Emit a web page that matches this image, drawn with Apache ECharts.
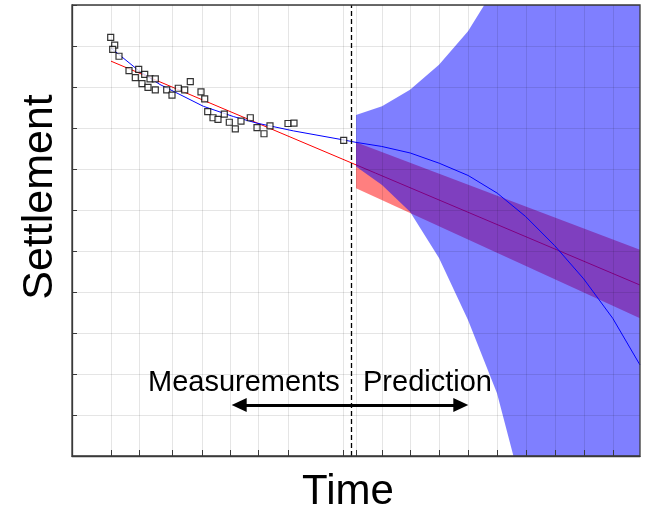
<!DOCTYPE html>
<html>
<head>
<meta charset="utf-8">
<title>Settlement prediction</title>
<script src="https://cdn.jsdelivr.net/npm/echarts@6/dist/echarts.min.js"></script>
<style>
  html, body { margin: 0; padding: 0; background: #fff; }
  #chart { width: 646px; height: 513px; }
</style>
</head>
<body>
<div id="chart"></div>
<script>
// x: days since start, y: settlement (chart units)
const xTicks = [39, 67, 100, 130, 158, 186, 216, 271, 284, 310, 338, 367, 396, 425, 454, 483, 512, 541]
const todayX = 279

const measured = [
  [38.7, 10.21], [42.7, 10.02], [40.7, 9.92], [47, 9.75], [57, 9.40],
  [66.7, 9.43], [63.3, 9.23], [72.7, 9.31], [70, 9.08], [78, 9.20],
  [83.3, 9.20], [76, 8.99], [83.3, 8.93], [94.7, 8.93], [100, 8.80],
  [106.3, 8.97], [112.7, 8.93], [118.3, 9.13], [129, 8.88], [132.7, 8.71],
  [135.7, 8.40], [141, 8.25], [146, 8.21], [152.3, 8.34], [157.3, 8.14],
  [163.3, 7.98], [169, 8.17], [178.3, 8.25], [185, 8.01], [192, 7.86],
  [198, 8.05], [216, 8.11], [222, 8.12], [271.7, 7.70]
]

// linear fit + interval
const linearFit = [[39, 9.63], [568, 4.17]]
const linearX = [284, 568]
const linearLower = [6.53, 3.36]
const linearUpper = [7.65, 5.03]

// nonlinear fit + interval
const curveFit = [
  [39, 9.95], [66.7, 9.40], [88, 9.06], [131.3, 8.53], [161.3, 8.28],
  [184.7, 8.12], [221.3, 7.93], [271.3, 7.71], [284, 7.65], [309.7, 7.55],
  [338.3, 7.39], [367.3, 7.14], [396.3, 6.84], [425.3, 6.41], [453.7, 5.84],
  [482.7, 5.13], [511.7, 4.32], [540.7, 3.36], [568, 2.22]
]
const curveX = [284, 310, 338, 367, 396, 425, 454, 483, 512, 541, 568]
const curveLower = [7.06, 6.61, 5.96, 4.83, 3.32, 1.53, -1.17, -4, -7, -10.5, -14]
const curveUpper = [8.32, 8.53, 8.93, 9.54, 10.36, 11.5, 13, 15, 17.5, 20, 22]

const chart = echarts.init(document.getElementById('chart'))

// band polygon drawn through the axes
const bandSeries = (xs, lower, upper, color) => ({
  type: 'custom',
  silent: true,
  z: 1,
  data: xs.map((x, i) => [x, lower[i], upper[i]]),
  encode: { x: 0, y: [1, 2] },
  renderItem: (params, api) => {
    if (params.dataIndex !== 0) return
    const top = xs.map((x, i) => api.coord([x, upper[i]]))
    const bottom = xs.map((x, i) => api.coord([x, lower[i]])).reverse()
    const cs = params.coordSys
    return {
      type: 'polygon',
      shape: { points: top.concat(bottom) },
      style: { fill: color },
      clipPath: { type: 'rect', shape: { x: cs.x, y: cs.y, width: cs.width, height: cs.height } }
    }
  }
})

const font = '"Liberation Sans", Arial, Helvetica, sans-serif'
const gridLine = { color: 'rgba(0,0,0,0.1)', width: 1, type: 'solid' }

chart.setOption({
  animation: false,
  grid: {
    left: 72, right: 6, top: 5, bottom: 57,
    show: true,
    borderColor: '#3a3a3a',
    borderWidth: 1.3,
    z: 10
  },
  xAxis: {
    type: 'value',
    min: 0,
    max: 568,
    z: 5,
    axisLine: { lineStyle: { color: '#3a3a3a', width: 1.3 } },
    axisTick: { inside: true, length: 6, customValues: xTicks, lineStyle: { color: '#3a3a3a' } },
    axisLabel: { show: false },
    splitLine: { show: false }
  },
  yAxis: {
    type: 'value',
    min: 0,
    max: 11,
    interval: 1,
    z: 5,
    axisLine: { show: true, lineStyle: { color: '#3a3a3a', width: 1.3 } },
    axisTick: { show: true, inside: true, length: 5, lineStyle: { color: '#3a3a3a' } },
    axisLabel: { show: false },
    splitLine: { show: true, lineStyle: { color: 'rgba(0,0,0,0.1)', width: 1 } }
  },
  series: [
    {
      type: 'line',
      data: linearFit,
      symbol: 'none',
      lineStyle: { color: '#ff0000', width: 1 },
      z: 0
    },
    bandSeries(linearX, linearLower, linearUpper, 'rgba(255,0,0,0.5)'),
    bandSeries(curveX, curveLower, curveUpper, 'rgba(0,0,255,0.5)'),
    {
      type: 'line',
      data: curveFit,
      symbol: 'none',
      lineStyle: { color: '#0000ff', width: 1 },
      z: 3
    },
    {
      type: 'scatter',
      data: measured,
      symbol: 'rect',
      symbolSize: 6,
      itemStyle: { color: '#fff', borderColor: '#000', borderWidth: 1.2 },
      z: 4,
      markLine: {
        silent: true,
        symbol: 'none',
        label: { show: false },
        data: xTicks.map(x => [
          { coord: [x, 0], lineStyle: gridLine },
          { coord: [x, 11] }
        ]).concat([
          [
            { coord: [todayX, 0], lineStyle: { color: '#000', width: 1.3, type: [5, 3] } },
            { coord: [todayX, 11] }
          ],
          [
            { coord: [167.2, 1.245], symbol: 'triangle', symbolSize: [14, 15], lineStyle: { color: '#000', width: 3, type: 'solid' } },
            { coord: [388.8, 1.245], symbol: 'triangle', symbolSize: [14, 15] }
          ]
        ])
      }
    }
  ],
  graphic: [
    { type: 'text', left: 148, top: 368, style: { text: 'Measurements', font: '29px ' + font, fill: '#000' } },
    { type: 'text', left: 363, top: 368, style: { text: 'Prediction', font: '29px ' + font, fill: '#000' } },
    { type: 'text', x: 348, y: 492, style: { text: 'Time', font: '42px ' + font, fill: '#000', align: 'center', verticalAlign: 'middle' } },
    { type: 'text', x: 40, y: 197, rotation: Math.PI / 2, style: { text: 'Settlement', font: '43px ' + font, fill: '#000', align: 'center', verticalAlign: 'middle' } }
  ]
})
</script>
</body>
</html>
